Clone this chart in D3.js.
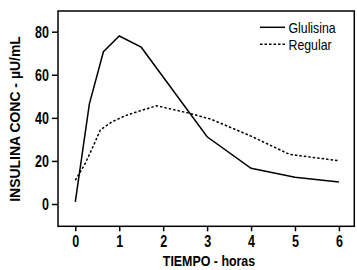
<!DOCTYPE html>
<html lang="es">
<head>
<meta charset="UTF-8">
<title>Insulina Glulisina vs Regular</title>
<script src="https://cdn.jsdelivr.net/npm/d3@7"></script>
<style>
    body { margin: 0; padding: 0; background: #fff; }
    svg text { font-family: "Liberation Sans", Arial, sans-serif; fill: #000; }
    .tick-label { font-size: 16px; font-weight: bold; }
    .axis-title { font-size: 15.5px; font-weight: bold; }
    .legend-text { font-size: 15px; }
</style>
</head>
<body>
<div id="chart"></div>
<script>
    // data (tiempo in horas, conc in µU/mL)
    const glulisinaTime = [0, 0.32, 0.64, 1, 1.5, 3, 4, 5, 6];
    const glulisinaConc = [1, 46.5, 70.7, 78, 72.8, 31.2, 16.6, 12.4, 10.2];
    const regularTime = [0, 0.23, 0.42, 0.57, 0.84, 1.14, 1.48, 1.85, 2.6, 3.1, 4, 4.88, 6];
    const regularConc = [11, 19, 27.4, 34.4, 38.2, 41, 43.3, 45.6, 42.1, 39.3, 31.5, 23, 20.1];
    const xTicks = [0, 1, 2, 3, 4, 5, 6];
    const yTicks = [0, 20, 40, 60, 80];
    const seriesNames = ["Glulisina", "Regular"];

    const width = 357, height = 270;
    const plot = { left: 58, right: 354.3, top: 11, bottom: 226.3 };

    const svg = d3.select("#chart").append("svg")
        .attr("width", width)
        .attr("height", height);

    const x = d3.scaleLinear().domain([-0.394, 6.35]).range([plot.left, plot.right]);
    const y = d3.scaleLinear().domain([-10.35, 89.6]).range([plot.bottom, plot.top]);

    // no condensed font installed -> squeeze glyphs horizontally
    function condense(sel, factor) {
        sel.each(function () {
            const w = this.getComputedTextLength();
            d3.select(this)
                .attr("textLength", w * factor)
                .attr("lengthAdjust", "spacingAndGlyphs");
        });
    }

    // frame
    svg.append("rect")
        .attr("x", plot.left).attr("y", plot.top)
        .attr("width", plot.right - plot.left)
        .attr("height", plot.bottom - plot.top)
        .attr("fill", "none").attr("stroke", "#000").attr("stroke-width", 1.5);

    // x axis
    const xAxis = svg.append("g").attr("transform", `translate(0,${plot.bottom})`)
        .call(d3.axisBottom(x).tickValues(xTicks).tickSize(5).tickPadding(4).tickFormat(d3.format("d")));
    xAxis.select(".domain").remove();
    xAxis.selectAll("line").attr("stroke", "#000").attr("stroke-width", 1.5);
    xAxis.selectAll("text").attr("class", "tick-label").attr("font-family", null).attr("font-size", null)
        .call(condense, 0.78);

    // y axis
    const yAxis = svg.append("g").attr("transform", `translate(${plot.left},0)`)
        .call(d3.axisLeft(y).tickValues(yTicks).tickSize(6).tickPadding(3).tickFormat(d3.format("d")));
    yAxis.select(".domain").remove();
    yAxis.selectAll("line").attr("stroke", "#000").attr("stroke-width", 1.5);
    yAxis.selectAll("text").attr("class", "tick-label").attr("font-family", null).attr("font-size", null)
        .attr("dy", "0.36em")
        .call(condense, 0.78);

    // axis titles
    svg.append("text").attr("class", "axis-title")
        .attr("x", 209).attr("y", 266)
        .attr("text-anchor", "middle")
        .text("TIEMPO - horas")
        .call(condense, 0.8);

    svg.append("text").attr("class", "axis-title")
        .attr("transform", `translate(20,119) rotate(-90)`)
        .attr("text-anchor", "middle")
        .text("INSULINA CONC - µU/mL")
        .call(condense, 0.9);

    // lines
    const line = d3.line().x(d => x(d[0])).y(d => y(d[1]));

    svg.append("path")
        .datum(d3.zip(glulisinaTime, glulisinaConc))
        .attr("d", line)
        .attr("fill", "none").attr("stroke", "#000").attr("stroke-width", 1.5);

    svg.append("path")
        .datum(d3.zip(regularTime, regularConc))
        .attr("d", line)
        .attr("fill", "none").attr("stroke", "#000").attr("stroke-width", 1.5)
        .attr("stroke-dasharray", "2.5,2");

    // legend
    const legend = svg.append("g");
    const dashes = [null, "2.5,2"];
    seriesNames.forEach((name, i) => {
        const ly = 27.3 + i * 17;
        legend.append("line")
            .attr("x1", 260).attr("x2", 285).attr("y1", ly).attr("y2", ly)
            .attr("stroke", "#000").attr("stroke-width", 1.5)
            .attr("stroke-dasharray", dashes[i]);
        legend.append("text").attr("class", "legend-text")
            .attr("x", 288.5).attr("y", ly + 5.5)
            .text(name)
            .call(condense, 0.82);
    });
</script>
</body>
</html>
